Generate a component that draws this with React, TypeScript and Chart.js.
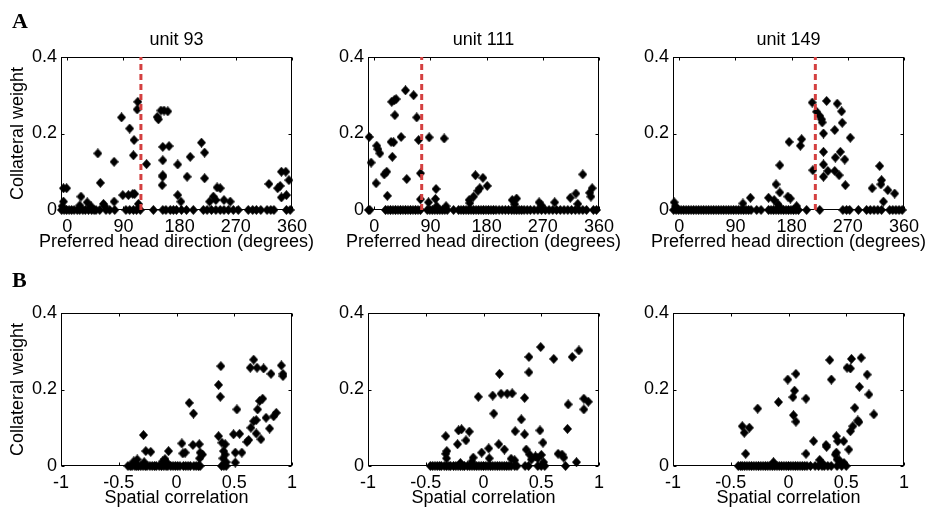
import React, { useEffect, useRef } from "react";
import { Chart, registerables } from "chart.js";

Chart.register(...registerables);

const FONT = "'Liberation Sans', Arial, Helvetica, sans-serif";
const SERIF = "'Liberation Serif', 'Times New Roman', serif";

// ---------- tick labels ----------
const dirTicks = [0, 90, 180, 270, 360];
const corrTicks = [-1, -0.5, 0, 0.5, 1];
const weightTicks = [0, 0.2, 0.4];

// ---------- panel titles ----------
const unitNames = ["unit 93", "unit 111", "unit 149"];
const preferredDir = [118, 76, 218];

// ---------- A: unit 93 ----------
const u93Dir = [-6, -1, -6, 22, 32, 49, 53, 58, 75, 75, 87, 89, 100, 98, 105, 108, 107, 106, 113, 112, 114, 127, 144, 146, 150, 155, 161, 153, 153, 153, 152, 153, 163, 177, 177, 182, 192, 197, 215, 220, 220, 228, 234, 238, 240, 245, 251, 261, 323, 337, 341, 343, 350, 343, 351, 355, -8, 20, 38, 60];
const u93W = [0.057, 0.057, 0.022, 0.035, 0.02, 0.148, 0.071, 0.016, 0.022, 0.126, 0.242, 0.039, 0.213, 0.039, 0.042, 0.042, 0.183, 0.143, 0.283, 0.263, 0.016, 0.12, 0.243, 0.237, 0.26, 0.26, 0.258, 0.165, 0.13, 0.087, 0.065, 0.091, 0.167, 0.119, 0.039, 0.022, 0.087, 0.139, 0.176, 0.15, 0.083, 0.022, 0.035, 0.026, 0.059, 0.057, 0.026, 0.022, 0.068, 0.057, 0.063, 0.1, 0.1, 0.033, 0.039, 0.078, 0.01, 0.012, 0.01, 0.01];
const u93ZeroDir = [-9, -5, -1, 3, 7, 11, 16, 20, 25, 29, 34, 39, 43, 46, 52, 62, 68, 76, 94, 100, 106, 111, 117, 138, 153, 158, 165, 170, 175, 183, 191, 202, 218, 224, 231, 238, 245, 251, 258, 266, 274, 290, 297, 303, 310, 320, 326, 331, 351, 357];

// ---------- A: unit 111 ----------
const u111Dir = [-8, -5, 3, 4, 6, 9, 16, 20, 21, 27, 31, 29, 28, 32, 35, 33, 43, 50, 52, 63, 68, 71, 74, 74, 88, 87, 99, 98, 112, 152, 153, 159, 162, 166, 169, 174, 181, 221, 228, 225, 264, 268, 289, 314, 323, 334, 345, 349, 347, 326, 100, 115];
const u111W = [0.191, 0.124, 0.07, 0.168, 0.159, 0.148, 0.093, 0.1, 0.037, 0.178, 0.177, 0.139, 0.283, 0.287, 0.29, 0.248, 0.191, 0.313, 0.081, 0.3, 0.242, 0.183, 0.096, 0.028, 0.19, 0.02, 0.055, 0.029, 0.187, 0.026, 0.018, 0.035, 0.091, 0.05, 0.057, 0.084, 0.063, 0.026, 0.03, 0.015, 0.02, 0.012, 0.02, 0.032, 0.043, 0.093, 0.045, 0.057, 0.035, 0.016, 0.01, 0.01];
const u111ZeroDir = [-9, -7, 18, 22, 26, 30, 34, 38, 42, 46, 50, 54, 58, 62, 66, 70, 74, 85, 89, 93, 97, 101, 105, 109, 113, 117, 127, 135, 139, 143, 147, 151, 155, 159, 163, 167, 171, 175, 179, 183, 187, 191, 195, 200, 205, 210, 215, 220, 224, 228, 232, 236, 240, 245, 250, 256, 262, 268, 274, 280, 286, 292, 298, 304, 310, 316, 322, 328, 334, 340, 351, 356];

// ---------- A: unit 149 ----------
const u149Dir = [-8, 102, 114, 143, 152, 155, 161, 161, 158, 174, 178, 176, 194, 196, 188, 213, 214, 220, 225, 228, 229, 231, 231, 231, 231, 236, 238, 249, 250, 249, 253, 256, 260, 261, 258, 265, 266, 274, 309, 321, 324, 323, 327, 334, 345, 160, -6];
const u149W = [0.02, 0.017, 0.032, 0.032, 0.026, 0.067, 0.046, 0.117, 0.015, 0.035, 0.03, 0.178, 0.168, 0.185, 0.01, 0.281, 0.104, 0.257, 0.246, 0.237, 0.229, 0.2, 0.152, 0.119, 0.087, 0.285, 0.102, 0.209, 0.137, 0.102, 0.278, 0.091, 0.258, 0.228, 0.152, 0.132, 0.065, 0.189, 0.057, 0.115, 0.078, 0.067, 0.022, 0.052, 0.043, 0.01, 0.01];
const u149ZeroDir = [-9, -5, -1, 3, 7, 11, 15, 19, 23, 27, 31, 35, 39, 43, 47, 51, 55, 59, 63, 67, 71, 75, 79, 83, 87, 91, 95, 99, 103, 107, 111, 115, 124, 131, 143, 147, 151, 155, 159, 163, 167, 171, 175, 179, 183, 187, 191, 204, 225, 262, 268, 273, 287, 300, 306, 312, 318, 324, 337, 342, 347, 352, 357];

// ---------- B: unit 93 ----------
const b93Corr = [-0.286, -0.266, -0.223, -0.069, 0.046, 0.055, 0.075, 0.11, 0.147, 0.142, 0.197, 0.205, 0.225, 0.2, 0.364, 0.379, 0.384, 0.364, 0.393, 0.422, 0.408, 0.422, 0.402, 0.43, 0.523, 0.494, 0.546, 0.509, 0.566, 0.509, 0.61, 0.625, 0.644, 0.639, 0.668, 0.697, 0.754, 0.818, 0.908, 0.922, 0.922, 0.668, 0.69, 0.69, 0.702, 0.72, 0.746, 0.731, 0.775, 0.806, 0.841, 0.864, -0.37, -0.34, -0.28, -0.12, -0.1, -0.08];
const b93W = [0.081, 0.039, 0.037, 0.039, 0.059, 0.033, 0.035, 0.165, 0.137, 0.055, 0.057, 0.035, 0.03, 0.02, 0.212, 0.181, 0.261, 0.078, 0.061, 0.057, 0.039, 0.03, 0.02, 0.01, 0.148, 0.083, 0.084, 0.035, 0.035, 0.009, 0.063, 0.068, 0.1, 0.257, 0.278, 0.257, 0.255, 0.241, 0.263, 0.241, 0.235, 0.117, 0.12, 0.085, 0.148, 0.17, 0.176, 0.07, 0.126, 0.098, 0.13, 0.139, 0.012, 0.017, 0.01, 0.012, 0.018, 0.008];
const b93ZeroCorr = [-0.42, -0.4, -0.385, -0.36, -0.345, -0.33, -0.31, -0.29, -0.27, -0.255, -0.23, -0.21, -0.19, -0.175, -0.15, -0.13, -0.11, -0.09, -0.075, -0.05, -0.03, -0.01, 0.01, 0.03, 0.06, 0.08, 0.1, 0.12, 0.15, 0.17, 0.19, 0.205, 0.39, 0.41, 0.43];

// ---------- B: unit 111 ----------
const b111Corr = [-0.327, -0.327, -0.318, -0.225, -0.216, -0.19, -0.152, -0.123, -0.089, -0.045, -0.016, 0.045, 0.08, 0.089, 0.138, 0.152, 0.205, 0.248, 0.132, 0.181, 0.239, 0.274, 0.327, 0.356, 0.356, 0.37, 0.399, 0.393, 0.393, 0.414, 0.495, 0.489, 0.515, 0.501, 0.52, 0.608, 0.646, 0.68, 0.695, 0.727, 0.733, 0.768, 0.826, 0.805, 0.869, 0.869, 0.907, -0.32, -0.2, -0.1, 0.05, 0.27, 0.45, 0.47];
const b111W = [0.078, 0.032, 0.039, 0.057, 0.093, 0.096, 0.067, 0.09, 0.022, 0.181, 0.035, 0.046, 0.184, 0.137, 0.241, 0.189, 0.189, 0.19, 0.057, 0.043, 0.019, 0.091, 0.122, 0.178, 0.083, 0.043, 0.03, 0.285, 0.245, 0.017, 0.311, 0.093, 0.061, 0.029, 0.01, 0.28, 0.032, 0.03, 0.022, 0.097, 0.161, 0.285, 0.302, 0.01, 0.148, 0.176, 0.168, 0.02, 0.008, 0.012, 0.02, 0.015, 0.025, 0.02];
const b111ZeroCorr = [-0.46, -0.44, -0.42, -0.4, -0.38, -0.365, -0.34, -0.32, -0.3, -0.285, -0.26, -0.24, -0.22, -0.2, -0.18, -0.165, -0.14, -0.12, -0.1, -0.08, -0.06, -0.04, -0.02, 0.0, 0.02, 0.04, 0.06, 0.08, 0.1, 0.12, 0.14, 0.16, 0.18, 0.2, 0.22, 0.24, 0.27, 0.29, 0.36, 0.39, 0.47, 0.5, 0.53, 0.71];

// ---------- B: unit 149 ----------
const b149Corr = [-0.4, -0.383, -0.339, -0.371, -0.267, -0.087, -0.006, 0.064, 0.052, 0.038, 0.043, 0.064, 0.151, 0.151, 0.217, 0.27, 0.325, 0.33, 0.357, 0.371, 0.414, 0.426, 0.414, 0.405, 0.42, 0.44, 0.478, 0.522, 0.507, 0.536, 0.545, 0.536, 0.557, 0.574, 0.6, 0.61, 0.614, 0.629, 0.681, 0.696, 0.739, -0.13, 0.3, 0.48];
const b149W = [0.104, 0.087, 0.1, 0.032, 0.15, 0.167, 0.226, 0.241, 0.197, 0.18, 0.133, 0.116, 0.176, 0.032, 0.065, 0.016, 0.055, 0.05, 0.277, 0.226, 0.078, 0.065, 0.035, 0.03, 0.017, 0.015, 0.065, 0.043, 0.257, 0.255, 0.28, 0.091, 0.104, 0.152, 0.119, 0.115, 0.207, 0.283, 0.239, 0.187, 0.135, 0.01, 0.005, 0.008];
const b149ZeroCorr = [-0.435, -0.415, -0.4, -0.38, -0.36, -0.34, -0.32, -0.3, -0.28, -0.26, -0.24, -0.22, -0.2, -0.18, -0.16, -0.14, -0.12, -0.1, -0.08, -0.06, -0.04, -0.02, 0.0, 0.02, 0.04, 0.06, 0.08, 0.1, 0.12, 0.14, 0.16, 0.19, 0.23, 0.26, 0.29, 0.31, 0.34, 0.37, 0.42, 0.46, 0.5];

// ---------- layout ----------
const PLOT_LEFTS = [61, 368, 673];
const PLOT_TOPS = [57, 313];
const PLOT_W = 231;
const PLOT_H = 153;
const Y_AXIS_W = 61;
const TOP_PAD = 45;
const RIGHT_PAD = 22;
const X_AXIS_H = 45;
const CANVAS_W = Y_AXIS_W + PLOT_W + RIGHT_PAD;
const CANVAS_H = TOP_PAD + PLOT_H + X_AXIS_H;

type Panel = {
  key: string;
  col: number;
  row: number;
  xs: number[];
  ys: number[];
  zeros: number[];
  xMin: number;
  xMax: number;
  xTicks: number[];
  xTitle: string;
  title?: string;
  red?: number;
  letter?: string;
  letterBaseline?: number;
};

const panels: Panel[] = [
  { key: "a0", col: 0, row: 0, xs: u93Dir, ys: u93W, zeros: u93ZeroDir, xMin: -10, xMax: 360, xTicks: dirTicks, xTitle: "Preferred head direction (degrees)", title: unitNames[0], red: preferredDir[0], letter: "A", letterBaseline: 28 },
  { key: "a1", col: 1, row: 0, xs: u111Dir, ys: u111W, zeros: u111ZeroDir, xMin: -10, xMax: 360, xTicks: dirTicks, xTitle: "Preferred head direction (degrees)", title: unitNames[1], red: preferredDir[1] },
  { key: "a2", col: 2, row: 0, xs: u149Dir, ys: u149W, zeros: u149ZeroDir, xMin: -10, xMax: 360, xTicks: dirTicks, xTitle: "Preferred head direction (degrees)", title: unitNames[2], red: preferredDir[2] },
  { key: "b0", col: 0, row: 1, xs: b93Corr, ys: b93W, zeros: b93ZeroCorr, xMin: -1, xMax: 1, xTicks: corrTicks, xTitle: "Spatial correlation", letter: "B", letterBaseline: 287 },
  { key: "b1", col: 1, row: 1, xs: b111Corr, ys: b111W, zeros: b111ZeroCorr, xMin: -1, xMax: 1, xTicks: corrTicks, xTitle: "Spatial correlation" },
  { key: "b2", col: 2, row: 1, xs: b149Corr, ys: b149W, zeros: b149ZeroCorr, xMin: -1, xMax: 1, xTicks: corrTicks, xTitle: "Spatial correlation" },
];

function makeDiamond(): HTMLCanvasElement {
  const c = document.createElement("canvas");
  c.width = 9;
  c.height = 10;
  const g = c.getContext("2d")!;
  g.fillStyle = "#000";
  g.beginPath();
  g.moveTo(4.5, 0);
  g.lineTo(9, 5);
  g.lineTo(4.5, 10);
  g.lineTo(0, 5);
  g.closePath();
  g.fill();
  return c;
}

function PanelChart({ p }: { p: Panel }) {
  const ref = useRef<HTMLCanvasElement | null>(null);
  const canvasLeft = PLOT_LEFTS[p.col] - Y_AXIS_W;
  const canvasTop = PLOT_TOPS[p.row] - TOP_PAD;

  useEffect(() => {
    if (!ref.current) return;
    const diamond = makeDiamond();
    const pts = p.xs.map((x, i) => ({ x, y: p.ys[i] }));
    const zeroPts = p.zeros.map((x) => ({ x, y: 0 }));
    const datasets: any[] = [
      {
        type: "scatter",
        data: [...zeroPts, ...pts],
        pointStyle: diamond,
        pointRadius: 5,
        pointBackgroundColor: "#000",
        pointBorderColor: "#000",
        pointBorderWidth: 0,
        clip: false,
        order: 1,
      },
    ];
    if (p.red !== undefined) {
      datasets.push({
        type: "line",
        data: [
          { x: p.red, y: 0 },
          { x: p.red, y: 0.4 },
        ],
        borderColor: "rgb(212,64,64)",
        borderWidth: 3,
        borderDash: [6, 4],
        pointRadius: 0,
        fill: false,
        clip: false,
        order: -1,
      });
    }

    const decor = {
      id: "decor",
      beforeDatasetsDraw(chart: any) {
        const { ctx, chartArea: a, scales } = chart;
        const xs = scales.x;
        const ys = scales.y;
        ctx.save();
        ctx.strokeStyle = "#000";
        ctx.lineWidth = 1;
        const L = Math.round(a.left) + 0.5;
        const R = Math.round(a.right) - 0.5;
        const T = Math.round(a.top) + 0.5;
        const B = Math.round(a.bottom) - 0.5;
        ctx.strokeRect(L, T, R - L, B - T);
        const tl = 3;
        ctx.beginPath();
        for (const t of xs.ticks) {
          const px = Math.round(xs.getPixelForValue(t.value)) + 0.5;
          ctx.moveTo(px, B);
          ctx.lineTo(px, B - tl);
          ctx.moveTo(px, T);
          ctx.lineTo(px, T + tl);
        }
        for (const t of ys.ticks) {
          const py = Math.round(ys.getPixelForValue(t.value)) + 0.5;
          ctx.moveTo(L, py);
          ctx.lineTo(L + tl, py);
          ctx.moveTo(R, py);
          ctx.lineTo(R - tl, py);
        }
        ctx.stroke();
        ctx.restore();
      },
      afterDraw(chart: any) {
        const { ctx, chartArea: a } = chart;
        ctx.save();
        ctx.fillStyle = "#000";
        ctx.font = `18px ${FONT}`;
        ctx.textAlign = "center";
        ctx.textBaseline = "alphabetic";
        if (p.title) {
          ctx.fillText(p.title, (a.left + a.right) / 2, a.top - 12);
        }
        ctx.fillText(p.xTitle, (a.left + a.right) / 2, a.bottom + 37);
        if (p.letter && p.letterBaseline !== undefined) {
          ctx.font = `bold 22px ${SERIF}`;
          ctx.textAlign = "left";
          ctx.fillText(p.letter, 12, p.letterBaseline - canvasTop);
        }
        ctx.restore();
      },
    };

    const chart = new Chart(ref.current, {
      type: "scatter",
      data: { datasets },
      plugins: [decor],
      options: {
        animation: false,
        responsive: false,
        devicePixelRatio: 1,
        layout: { padding: { top: TOP_PAD, right: RIGHT_PAD, left: 0, bottom: 0 } },
        plugins: {
          legend: { display: false },
          tooltip: { enabled: false },
          title: { display: false },
        },
        scales: {
          x: {
            type: "linear",
            min: p.xMin,
            max: p.xMax,
            afterBuildTicks: (s: any) => {
              s.ticks = p.xTicks.map((v) => ({ value: v }));
            },
            afterFit: (s: any) => {
              s.height = X_AXIS_H;
            },
            grid: { display: false, drawTicks: false },
            border: { display: false },
            ticks: {
              color: "#000",
              font: { family: FONT, size: 18 },
              padding: 6,
              maxRotation: 0,
              autoSkip: false,
              callback: (v: any) => String(v),
            },
            title: { display: false },
          },
          y: {
            type: "linear",
            min: 0,
            max: 0.4,
            afterBuildTicks: (s: any) => {
              s.ticks = weightTicks.map((v) => ({ value: v }));
            },
            afterFit: (s: any) => {
              s.width = Y_AXIS_W;
            },
            grid: { display: false, drawTicks: false },
            border: { display: false },
            ticks: {
              color: "#000",
              font: { family: FONT, size: 18 },
              padding: 4,
              autoSkip: false,
              callback: (v: any) => String(v),
            },
            title: {
              display: p.col === 0,
              text: "Collateral weight",
              color: "#000",
              font: { family: FONT, size: 18 },
              padding: { top: 7, bottom: 0 },
            },
          },
        },
      } as any,
    });
    return () => chart.destroy();
  }, [p]);

  return (
    <canvas
      ref={ref}
      width={CANVAS_W}
      height={CANVAS_H}
      style={{ position: "absolute", left: canvasLeft, top: canvasTop, width: CANVAS_W, height: CANVAS_H }}
    />
  );
}

export default function App() {
  return (
    <div style={{ position: "absolute", left: 0, top: 0, width: 932, height: 514, background: "#fff", overflow: "hidden" }}>
      {panels.map((p) => (
        <PanelChart key={p.key} p={p} />
      ))}
    </div>
  );
}
